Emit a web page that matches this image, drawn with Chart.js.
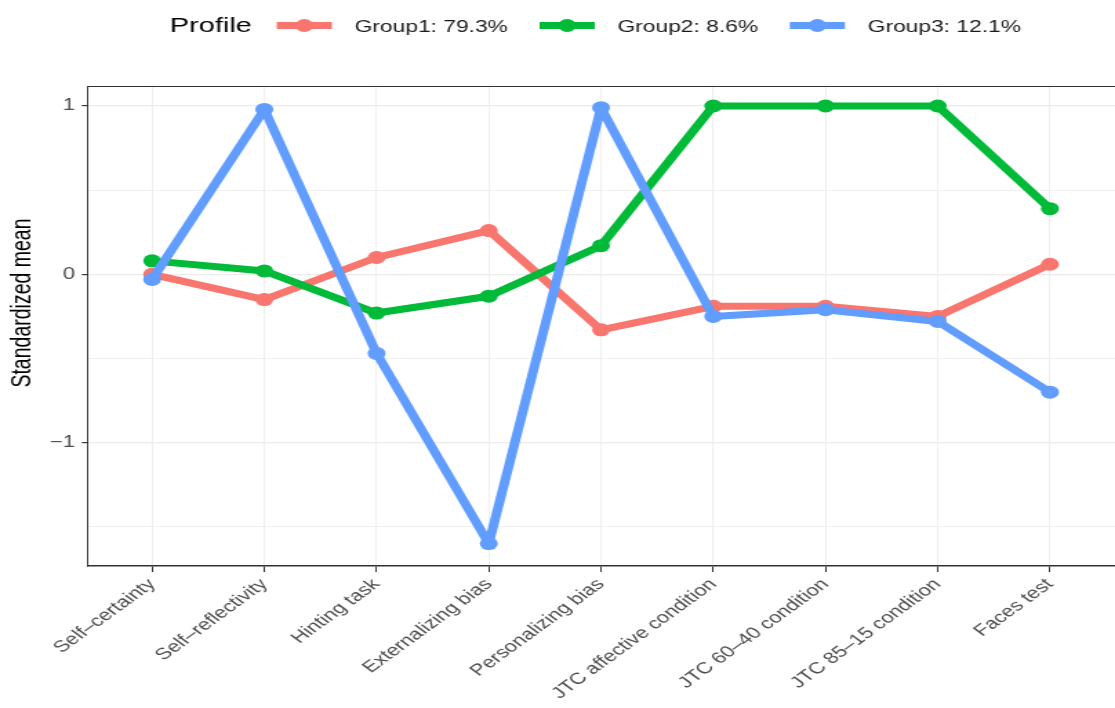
<!DOCTYPE html>
<html>
<head>
<meta charset="utf-8">
<script src="https://cdn.jsdelivr.net/npm/chart.js@4.4.1/dist/chart.umd.min.js"></script>
<style>
    html, body { margin: 0; padding: 0; background: #fff; overflow: hidden; }
    /* the reference picture is stretched sideways, so draw narrow and widen it */
    #wrap { width: 808px; height: 708px; transform: scaleX(1.37995); transform-origin: 0 0; }
</style>
</head>
<body>
<div id="wrap"><canvas id="chartProfile" width="808" height="708"></canvas></div>
<script>
// ---- data ----
const categories = [
    'Self–certainty', 'Self–reflectivity', 'Hinting task', 'Externalizing bias',
    'Personalizing bias', 'JTC affective condition', 'JTC 60–40 condition',
    'JTC 85–15 condition', 'Faces test'
];
const group1 = [0.00, -0.15, 0.10, 0.26, -0.33, -0.19, -0.19, -0.25, 0.06];
const group2 = [0.08, 0.02, -0.23, -0.13, 0.17, 1.00, 1.00, 1.00, 0.39];
const group3 = [-0.03, 0.98, -0.47, -1.60, 0.99, -0.25, -0.21, -0.28, -0.70];
const groupLabels = ['Group1: 79.3%', 'Group2: 8.6%', 'Group3: 12.1%'];
const groupColors = ['#F8766D', '#00BA38', '#619CFF'];
const yTickValues = [-1, 0, 1];
const yTickLabels = ['−1', '0', '1'];
const yTitle = 'Standardized mean';

const FONT = '"Liberation Sans", Arial, sans-serif';

// legend row along the top: "Profile" then line+point keys
const profileLegend = {
    id: 'profileLegend',
    afterDraw(chart) {
        const ctx = chart.ctx;
        const base = 32, mid = 25.5;
        let x = 123;
        ctx.save();
        ctx.textAlign = 'left';
        ctx.textBaseline = 'alphabetic';
        ctx.fillStyle = '#000';
        ctx.font = '21px ' + FONT;
        ctx.fillText('Profile', x, base);
        x += ctx.measureText('Profile').width + 18;
        ctx.font = '16.5px ' + FONT;
        chart.data.datasets.forEach(function(ds) {
            ctx.strokeStyle = ds.borderColor;
            ctx.lineWidth = 7;
            ctx.beginPath();
            ctx.moveTo(x, mid);
            ctx.lineTo(x + 40, mid);
            ctx.stroke();
            ctx.fillStyle = ds.borderColor;
            ctx.beginPath();
            ctx.arc(x + 20, mid, 6.5, 0, Math.PI * 2);
            ctx.fill();
            x += 40 + 16.5;
            ctx.fillStyle = '#1a1a1a';
            ctx.fillText(ds.label, x, base);
            x += ctx.measureText(ds.label).width + 23;
        });
        ctx.restore();
    }
};

// top edge of the panel border + y axis title (sits a bit above panel centre)
const panelExtras = {
    id: 'panelExtras',
    beforeDatasetsDraw(chart) {
        const a = chart.chartArea, ctx = chart.ctx;
        ctx.save();
        ctx.strokeStyle = '#333';
        ctx.lineWidth = 1;
        ctx.beginPath();
        ctx.moveTo(a.left, a.top + 0.5);
        ctx.lineTo(a.right, a.top + 0.5);
        ctx.stroke();

        ctx.translate(17, 303);
        ctx.rotate(-Math.PI / 2);
        ctx.textAlign = 'center';
        ctx.textBaseline = 'middle';
        ctx.fillStyle = '#000';
        ctx.font = '19.5px ' + FONT;
        ctx.fillText(yTitle, 0, 0);
        ctx.restore();
    }
};

const ctx = document.getElementById('chartProfile').getContext('2d');

new Chart(ctx, {
    type: 'line',
    data: {
        datasets: [group1, group2, group3].map(function(vals, i) {
            return {
                label: groupLabels[i],
                data: vals.map(function(v, j) { return { x: j, y: v }; }),
                borderColor: groupColors[i],
                backgroundColor: groupColors[i],
                borderWidth: 7,
                borderJoinStyle: 'round',
                borderCapStyle: 'round',
                pointRadius: 6.5,
                pointHoverRadius: 6.5,
                pointBorderWidth: 0,
                tension: 0,
                order: 3 - i,
                clip: false
            };
        })
    },
    options: {
        responsive: false,
        animation: false,
        events: [],
        layout: {
            autoPadding: false,
            padding: { top: 86, left: 0, right: 0, bottom: 0 }
        },
        plugins: {
            legend: { display: false },
            tooltip: { enabled: false }
        },
        scales: {
            x: {
                type: 'linear',
                min: -0.571,
                max: 8.58,
                afterFit: function(scale) {
                    scale.height = 142;
                    scale.paddingLeft = 0;
                    scale.paddingRight = 0;
                },
                border: { color: '#333', width: 1.5 },
                grid: {
                    color: '#ebebeb',
                    lineWidth: 0.8,
                    tickColor: '#333',
                    tickWidth: 1,
                    tickLength: 6
                },
                ticks: {
                    stepSize: 1,
                    includeBounds: false,
                    autoSkip: false,
                    minRotation: 45,
                    maxRotation: 45,
                    padding: 3,
                    color: '#4d4d4d',
                    font: { family: FONT, size: 16 },
                    callback: function(v) {
                        return categories[v] !== undefined ? categories[v] : '';
                    }
                }
            },
            y: {
                type: 'linear',
                min: -1.733,
                max: 1.119,
                afterFit: function(scale) {
                    scale.width = 63.8;
                    scale.paddingTop = 0;
                    scale.paddingBottom = 0;
                },
                border: { color: '#333', width: 1 },
                grid: {
                    color: '#ebebeb',
                    lineWidth: function(c) {
                        return c.tick && yTickValues.indexOf(c.tick.value) >= 0 ? 1.2 : 0.7;
                    },
                    tickColor: function(c) {
                        return c.tick && yTickValues.indexOf(c.tick.value) >= 0 ? '#333' : 'rgba(0,0,0,0)';
                    },
                    tickWidth: 1.2,
                    tickLength: 4.5
                },
                ticks: {
                    stepSize: 0.5,
                    includeBounds: false,
                    padding: 5,
                    color: '#4d4d4d',
                    font: { family: FONT, size: 16 },
                    callback: function(v) {
                        const k = yTickValues.indexOf(v);
                        return k >= 0 ? yTickLabels[k] : '';
                    }
                }
            }
        }
    },
    plugins: [profileLegend, panelExtras]
});
</script>
</body>
</html>
